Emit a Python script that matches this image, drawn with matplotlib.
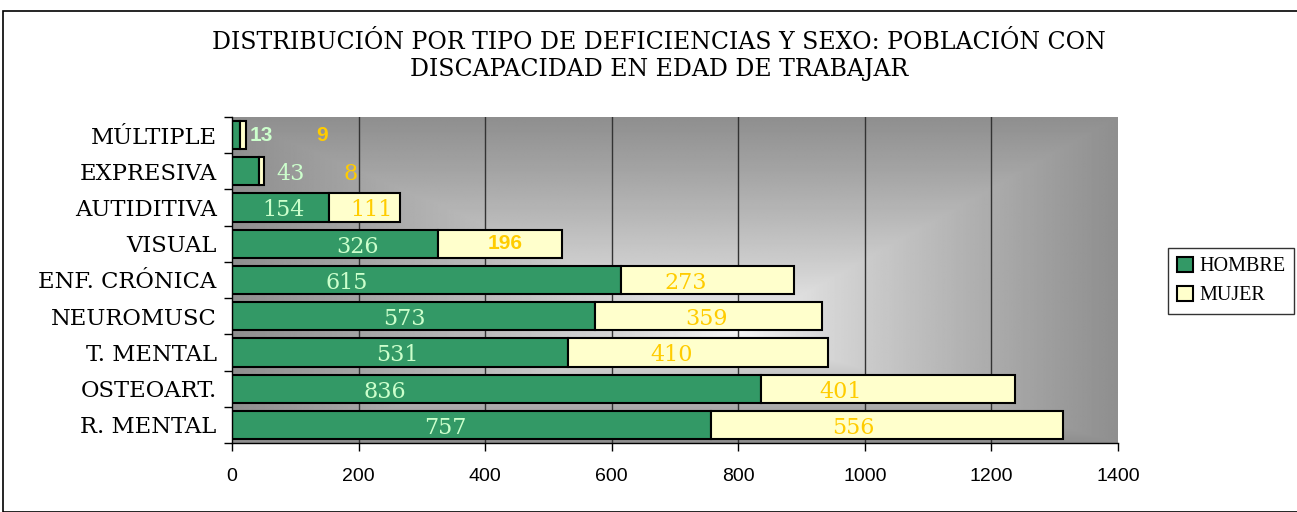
import numpy as np
import matplotlib.pyplot as plt
from matplotlib.patches import Rectangle

categorias = ['MÚLTIPLE', 'EXPRESIVA', 'AUTIDITIVA', 'VISUAL', 'ENF. CRÓNICA',
              'NEUROMUSC', 'T. MENTAL', 'OSTEOART.', 'R. MENTAL']
hombre = [13, 43, 154, 326, 615, 573, 531, 836, 757]
mujer = [9, 8, 111, 196, 273, 359, 410, 401, 556]

# where excel dropped the data labels (x in data units)
pos_lbl_h = [47, 93, 82, 198, 182, 273, 261, 242, 337]
pos_lbl_m = [142, 188, 220, 431, 717, 749, 694, 962, 981]
negrita_h = [True, False, False, False, False, False, False, False, False]
negrita_m = [True, False, False, True, False, False, False, False, False]

verde = '#339966'
amarillo = '#FFFFCC'
serif = 'DejaVu Serif'

fig = plt.figure(figsize=(12.97, 5.12), dpi=100)
ax = fig.add_axes([232/1297, 1-443/512, (1118-232)/1297, (443-117)/512])

y = np.arange(len(categorias))

# gradient background (rectangular rings, light centre low-middle)
gx = np.linspace(0, 1, 500)
gy = np.linspace(0, 1, 300)
X, Y = np.meshgrid(gx, gy)
cx, cy = 0.57, 0.66
dx = np.where(X < cx, (cx - X) / cx, (X - cx) / (1 - cx))
dy = np.where(Y < cy, (cy - Y) / cy, (Y - cy) / (1 - cy))
d = np.clip(np.maximum(dx, dy), 0, 1)
val = 0.97 - 0.41 * d ** 0.8
ax.imshow(val, cmap='gray', vmin=0, vmax=1, extent=[0, 1400, 8.5, -0.5],
          aspect='auto', zorder=0, interpolation='bilinear')

for g in range(200, 1400, 200):
    ax.axvline(g, color='#333333', lw=1, zorder=1)

ax.barh(y, hombre, height=0.78, color=verde, edgecolor='black', lw=1.5, zorder=2, label='HOMBRE')
ax.barh(y, mujer, left=hombre, height=0.78, color=amarillo, edgecolor='black', lw=1.5, zorder=2, label='MUJER')

for i in range(len(categorias)):
    if negrita_h[i]:
        ax.text(pos_lbl_h[i], y[i], str(hombre[i]), color='#CCFFCC', fontsize=15, fontweight='bold',
                family='Liberation Sans', ha='center', va='center', zorder=3)
    else:
        ax.text(pos_lbl_h[i], y[i] + 0.08, str(hombre[i]), color='#CCFFCC', fontsize=16,
                family=serif, ha='center', va='center', zorder=3)
    if negrita_m[i]:
        ax.text(pos_lbl_m[i], y[i], str(mujer[i]), color='#FFCC00', fontsize=15, fontweight='bold',
                family='Liberation Sans', ha='center', va='center', zorder=3)
    else:
        ax.text(pos_lbl_m[i], y[i] + 0.08, str(mujer[i]), color='#FFCC00', fontsize=16,
                family=serif, ha='center', va='center', zorder=3)

ax.set_xlim(0, 1400)
ax.set_ylim(8.5, -0.5)
ax.set_xticks(range(0, 1401, 200))
ax.set_xticklabels([str(v) for v in range(0, 1401, 200)], fontsize=14, family='Liberation Sans')
ax.set_yticks(y)
ax.set_yticklabels(categorias, fontsize=16.3, family=serif)
ax.set_yticks(np.arange(-0.5, 9, 1), minor=True)
ax.tick_params(axis='y', which='major', length=0, pad=11)
ax.tick_params(axis='y', which='minor', length=6, width=1)
ax.tick_params(axis='x', length=6, width=1, pad=12)
for s in ['top', 'right']:
    ax.spines[s].set_visible(False)
ax.spines['left'].set_linewidth(1)
ax.spines['bottom'].set_linewidth(1)

fig.text(659/1297, 1-56/512, 'DISTRIBUCIÓN POR TIPO DE DEFICIENCIAS Y SEXO: POBLACIÓN CON\nDISCAPACIDAD EN EDAD DE TRABAJAR',
         ha='center', va='center', fontsize=17, family=serif, linespacing=1.25)

leg = ax.legend(loc='center left', bbox_to_anchor=(1168/1297, 1-281/512), bbox_transform=fig.transFigure,
                prop={'family': 'Liberation Serif', 'size': 14.5}, frameon=True, fancybox=False,
                edgecolor='black', handlelength=0.8, handleheight=0.8, handletextpad=0.3,
                borderpad=0.45, labelspacing=0.45, borderaxespad=0)
leg.get_frame().set_linewidth(1)

fig.patches.append(Rectangle((3/1297, 0), 1.2, 1-11/512, transform=fig.transFigure,
                             fill=False, edgecolor='black', lw=1.2))

fig.savefig('out.png', dpi=100)
